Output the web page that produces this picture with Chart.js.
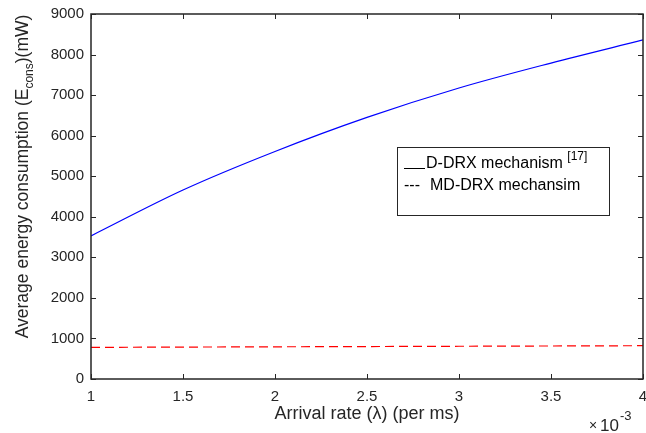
<!DOCTYPE html>
<html>
<head>
<meta charset="utf-8">
<script src="https://cdn.jsdelivr.net/npm/chart.js@4"></script>
<style>
  html, body { margin: 0; padding: 0; background: #fff; }
  #wrap { width: 646px; height: 433px; }
</style>
</head>
<body>
<div id="wrap"><canvas id="energyChart" width="646" height="433"></canvas></div>
<script>
// arrival rate in units of 1e-3 per ms
const arrivalRate = [1, 1.5, 2, 2.5, 3, 3.5, 4];
const ddrxEnergy = [3530, 4660, 5610, 6450, 7175, 7790, 8360];
const mddrxEnergy = [780, 787, 794, 800, 807, 814, 821];
const yTicks = [0, 1000, 2000, 3000, 4000, 5000, 6000, 7000, 8000, 9000];
const xTicks = [1, 1.5, 2, 2.5, 3, 3.5, 4];

const AXIS = '#262626';
const FONT = '"Liberation Sans", Arial, Helvetica, sans-serif';

const toPoints = (xs, ys) => xs.map((x, i) => ({ x: x, y: ys[i] }));

// box, inward ticks, axis titles and the text legend
const matlabFrame = {
    id: 'matlabFrame',
    afterDraw(chart) {
        const c = chart.ctx;
        const a = chart.chartArea;
        const xs = chart.scales.x, ys = chart.scales.y;
        c.save();
        c.strokeStyle = AXIS;
        c.lineWidth = 1.5;
        c.strokeRect(a.left, a.top, a.right - a.left, a.bottom - a.top);
        c.lineWidth = 1;
        c.beginPath();
        xTicks.forEach(v => {
            const px = Math.round(xs.getPixelForValue(v)) + 0.5;
            c.moveTo(px, a.bottom); c.lineTo(px, a.bottom - 5);
            c.moveTo(px, a.top); c.lineTo(px, a.top + 5);
        });
        yTicks.forEach(v => {
            const py = Math.round(ys.getPixelForValue(v)) + 0.5;
            c.moveTo(a.left, py); c.lineTo(a.left + 5, py);
            c.moveTo(a.right, py); c.lineTo(a.right - 5, py);
        });
        c.stroke();

        c.fillStyle = AXIS;
        c.textBaseline = 'alphabetic';

        // x title and exponent
        c.font = '18px ' + FONT;
        c.textAlign = 'center';
        c.fillText('Arrival rate (\u03BB) (per ms)', (a.left + a.right) / 2, 419);
        c.textAlign = 'left';
        c.font = '14px ' + FONT;
        c.fillText('\u00D7', 589, 430);
        c.font = '17px ' + FONT;
        c.fillText('10', 600, 431);
        c.font = '13px ' + FONT;
        c.fillText('-3', 620, 420);

        // y title with subscript
        c.save();
        c.translate(28, (a.top + a.bottom) / 2 - 20);
        c.rotate(-Math.PI / 2);
        const p1 = 'Average energy consumption (E', sub = 'cons', p2 = ')(mW)';
        c.font = '17.5px ' + FONT;
        const w1 = c.measureText(p1).width, w3 = c.measureText(p2).width;
        c.font = '12px ' + FONT;
        const w2 = c.measureText(sub).width;
        let x0 = -(w1 + w2 + w3) / 2;
        c.font = '17.5px ' + FONT;
        c.fillText(p1, x0, 0);
        c.font = '12px ' + FONT;
        c.fillText(sub, x0 + w1, 5);
        c.font = '17.5px ' + FONT;
        c.fillText(p2, x0 + w1 + w2, 0);
        c.restore();

        // legend
        c.fillStyle = '#fff';
        c.fillRect(397, 147, 213, 69);
        c.strokeStyle = AXIS;
        c.lineWidth = 1;
        c.strokeRect(397.5, 147.5, 212, 68);
        c.strokeStyle = '#000';
        c.beginPath();
        c.moveTo(404, 168.5); c.lineTo(425, 168.5);
        c.stroke();
        c.fillStyle = '#000';
        c.font = '16px ' + FONT;
        c.fillText('D-DRX mechanism', 426, 168);
        const lw = c.measureText('D-DRX mechanism ').width;
        c.font = '12px ' + FONT;
        c.fillText('[17]', 426 + lw, 160);
        c.font = '16px ' + FONT;
        c.fillText('---', 404, 190);
        c.fillText('MD-DRX mechansim', 430, 190);
        c.restore();
    }
};

new Chart(document.getElementById('energyChart').getContext('2d'), {
    type: 'line',
    data: {
        datasets: [{
            label: 'D-DRX mechanism [17]',
            data: toPoints(arrivalRate, ddrxEnergy),
            borderColor: '#0000ff',
            borderWidth: 1.2,
            pointRadius: 0,
            cubicInterpolationMode: 'monotone',
            fill: false
        }, {
            label: 'MD-DRX mechansim',
            data: toPoints(arrivalRate, mddrxEnergy),
            borderColor: '#ff0000',
            borderWidth: 1.2,
            borderDash: [9, 5],
            pointRadius: 0,
            fill: false
        }]
    },
    options: {
        responsive: false,
        animation: false,
        layout: { padding: { top: 14, right: 3, left: 0, bottom: 0 } },
        plugins: { legend: { display: false }, tooltip: { enabled: false } },
        scales: {
            x: {
                type: 'linear', min: 1, max: 4,
                afterBuildTicks: s => { s.ticks = xTicks.map(v => ({ value: v })); },
                afterFit: s => { s.height = 54; s.paddingRight = 0; s.paddingLeft = 0; },
                grid: { display: false, drawTicks: false },
                border: { display: false },
                ticks: {
                    color: AXIS, font: { family: FONT, size: 15 }, padding: 9, maxRotation: 0,
                    callback: v => String(v)
                }
            },
            y: {
                min: 0, max: 9000,
                afterBuildTicks: s => { s.ticks = yTicks.map(v => ({ value: v })); },
                afterFit: s => { s.width = 91; s.paddingTop = 0; s.paddingBottom = 0; },
                grid: { display: false, drawTicks: false },
                border: { display: false },
                ticks: {
                    color: AXIS, font: { family: FONT, size: 15 }, padding: 7,
                    callback: v => String(v)
                }
            }
        }
    },
    plugins: [matlabFrame]
});
</script>
</body>
</html>
